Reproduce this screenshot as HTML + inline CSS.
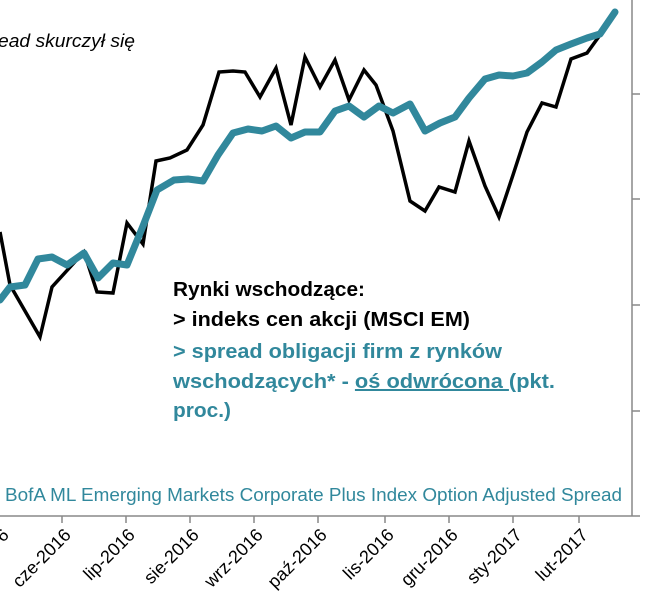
<!DOCTYPE html>
<html><head><meta charset="utf-8"><style>
body{margin:0;background:#fff;}
svg{display:block;font-family:"Liberation Sans",sans-serif;}
</style></head><body>
<svg width="653" height="613" viewBox="0 0 653 613">
<text x="-2" y="47" font-size="18" font-style="italic" fill="#000" textLength="137" lengthAdjust="spacingAndGlyphs">ead skurczył się</text>
<g stroke="#888" stroke-width="1.5" fill="none">
<line x1="632" y1="0" x2="632" y2="516"/>
<line x1="632" y1="94" x2="640" y2="94"/>
<line x1="632" y1="199" x2="640" y2="199"/>
<line x1="632" y1="305" x2="640" y2="305"/>
<line x1="632" y1="411" x2="640" y2="411"/>
<line x1="0" y1="516" x2="640" y2="516"/>
<line x1="62" y1="516" x2="62" y2="523"/><line x1="126" y1="516" x2="126" y2="523"/>
<line x1="190" y1="516" x2="190" y2="523"/><line x1="254" y1="516" x2="254" y2="523"/>
<line x1="318" y1="516" x2="318" y2="523"/><line x1="385" y1="516" x2="385" y2="523"/>
<line x1="449" y1="516" x2="449" y2="523"/><line x1="513" y1="516" x2="513" y2="523"/>
<line x1="579" y1="516" x2="579" y2="523"/>
</g>
<g font-size="18" fill="#000" text-anchor="end">
<text transform="translate(10,536) rotate(-45)">6</text>
<text transform="translate(72,536) rotate(-45)">cze-2016</text>
<text transform="translate(136,536) rotate(-45)">lip-2016</text>
<text transform="translate(200,536) rotate(-45)">sie-2016</text>
<text transform="translate(264,536) rotate(-45)">wrz-2016</text>
<text transform="translate(328,536) rotate(-45)">paź-2016</text>
<text transform="translate(395,536) rotate(-45)">lis-2016</text>
<text transform="translate(459,536) rotate(-45)">gru-2016</text>
<text transform="translate(523,536) rotate(-45)">sty-2017</text>
<text transform="translate(589,536) rotate(-45)">lut-2017</text>
</g>
<polyline fill="none" stroke="#000" stroke-width="3.5" stroke-linejoin="miter" points="0,232 10,285 40,337 52,287 72,265 84,252 97,292 113,293 127,223 143,244 156,161 170,158 187,150 203,125 219,72 233,71 245,72 260,97 276,68 291,125 305,57 320,87 335,60 349,100 364,70 376,85 393,131 410,201 425,211 439,187 455,192 469,141 485,186 499,217 513,175 527,132 542,103 556,107 571,59 587,53 600,35 615,12"/>
<polyline fill="none" stroke="#31889c" stroke-width="7" stroke-linejoin="round" stroke-linecap="round" points="0,300 10,287 25,285 38,259 52,257 67,265 84,253 98,278 113,263 127,265 143,226 157,190 174,180 188,179 203,181 218,155 233,133 248,129 262,131 276,126 291,138 305,132 320,132 335,111 349,106 364,117 379,106 393,113 410,104 425,131 440,123 455,117 469,98 485,79 499,75 513,76 527,73 542,62 556,50 571,44 587,38 600,34 615,12"/>
<g font-size="20" font-weight="bold">
<text x="173" y="296" fill="#000" textLength="192" lengthAdjust="spacingAndGlyphs">Rynki wschodzące:</text>
<text x="173" y="326" fill="#000" textLength="297" lengthAdjust="spacingAndGlyphs">&gt; indeks cen akcji (MSCI EM)</text>
<text x="173" y="358" fill="#31889c" textLength="329" lengthAdjust="spacingAndGlyphs">&gt; spread obligacji firm z rynków</text>
<text x="173" y="388" fill="#31889c" textLength="382" lengthAdjust="spacingAndGlyphs">wschodzących*  - <tspan text-decoration="underline">oś odwrócona </tspan>(pkt.</text>
<text x="173" y="417" fill="#31889c" textLength="58" lengthAdjust="spacingAndGlyphs">proc.)</text>
</g>
<text x="5" y="501" font-size="18" fill="#31889c" textLength="617" lengthAdjust="spacingAndGlyphs">BofA ML Emerging Markets Corporate Plus Index Option Adjusted Spread</text>
</svg>
</body></html>
